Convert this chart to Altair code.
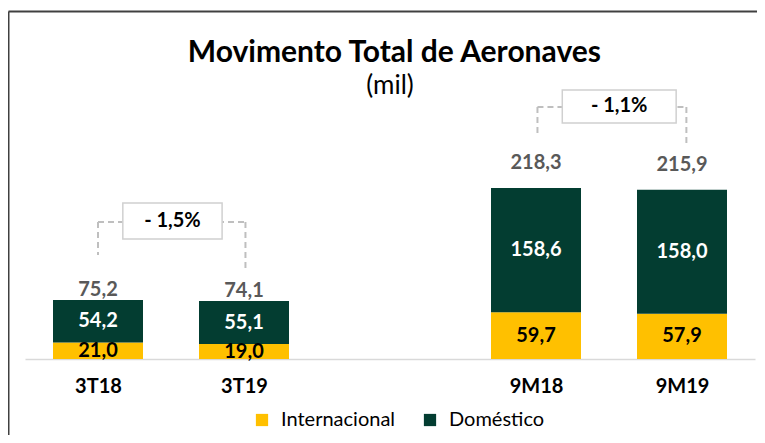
import altair as alt
import pandas as pd

# ---- data ----
categories = ["3T18", "3T19", "9M18", "9M19"]
slots = [0, 1, 3, 4]                      # category slot (slot 2 left empty)
internacional = [21.0, 19.0, 59.7, 57.9]
domestico = [54.2, 55.1, 158.6, 158.0]
totals = [75.2, 74.1, 218.3, 215.9]
groups = ["3T", "3T", "9M", "9M"]
variations = ["- 1,5%", "- 1,1%"]
series = ["Internacional", "Doméstico"]
title_text = "Movimento Total de Aeronaves"
subtitle_text = "(mil)"

YELLOW = "#FFC000"
GREEN = "#033D31"
FONT = "Lato"


def fmt(v):
    return f"{v:.1f}".replace(".", ",")


rows = []
for c, s, i, d, g in zip(categories, slots, internacional, domestico, groups):
    rows.append({"cat": c, "pos": s, "serie": series[0], "start": 0.0, "end": i,
                 "mid": i / 2, "label": fmt(i), "grp": g})
    rows.append({"cat": c, "pos": s, "serie": series[1], "start": i, "end": i + d,
                 "mid": i + d / 2, "label": fmt(d), "grp": g})
bars_df = pd.DataFrame(rows)

tot_df = pd.DataFrame({"cat": categories, "pos": slots, "total": totals,
                       "label": [fmt(t) for t in totals], "grp": groups})

# bracket annotations (data units)
br_df = pd.DataFrame({
    "x_left": [0.0, 3.01], "x_right": [1.01, 4.03],
    "top": [175.0, 321.6], "left_end": [132.7, 288.5], "right_end": [113.6, 275.7],
    "box_x1": [0.17, 3.18], "box_x2": [0.85, 3.96],
    "box_y1": [153.2, 301.2], "box_y2": [199.1, 343.4],
    "text": variations,
})
br_df["box_xc"] = (br_df["box_x1"] + br_df["box_x2"]) / 2
br_df["box_yc"] = (br_df["box_y1"] + br_df["box_y2"]) / 2

# heading / frame annotations (data units)
head_df = pd.DataFrame({"t": [title_text, subtitle_text], "x": [2.03, 2.0],
                        "y": [390.6, 348.4], "kind": ["title", "sub"]})
frame_df = pd.DataFrame({"x": [-0.613], "x2": [4.6], "y": [443.5], "y2": [-105.0]})

label_expr = " : ".join(
    f"datum.value == {s} ? '{c}'" for s, c in zip(slots, categories)
) + " : ''"

xscale = alt.Scale(domain=[-0.5, 4.5], nice=False, zero=False, padding=0)
yscale = alt.Scale(domain=[0, 448], nice=False, zero=True, padding=0)

xaxis = alt.Axis(values=slots, labelExpr=label_expr, ticks=False, grid=False,
                 title=None, domainColor="#D9D9D9", domainWidth=1.5,
                 labelFontSize=20, labelFontWeight="bold", labelFont=FONT,
                 labelColor="#000000", labelPadding=17)


def X(f):
    return alt.X(f, type="quantitative", scale=xscale, axis=xaxis)


def Y(f):
    return alt.Y(f, type="quantitative", scale=yscale, axis=None)


base = alt.Chart(bars_df)

bars = base.mark_bar(size=90).encode(
    x=X("pos"),
    y=Y("start"),
    y2="end:Q",
    color=alt.Color("serie:N",
                    scale=alt.Scale(domain=series, range=[YELLOW, GREEN]),
                    legend=alt.Legend(title=None, orient="none", direction="horizontal",
                                      legendX=227, legendY=402,
                                      symbolType="square", symbolSize=150,
                                      symbolStrokeWidth=0, labelFontSize=20,
                                      labelFont=FONT, labelColor="#000000",
                                      labelOffset=9, columnPadding=24)),
)

lab_int = base.transform_filter(alt.datum.serie == series[0]).mark_text(
    fontSize=20, fontWeight="bold", font=FONT, color="#000000", baseline="middle"
).encode(x=X("pos"), y=Y("mid"), text="label:N")

lab_dom = base.transform_filter(alt.datum.serie == series[1]).mark_text(
    fontSize=20, fontWeight="bold", font=FONT, color="#FFFFFF", baseline="middle"
).encode(x=X("pos"), y=Y("mid"), text="label:N")

tot_base = alt.Chart(tot_df)
tot_3t = tot_base.transform_filter(alt.datum.grp == "3T").mark_text(
    fontSize=20, fontWeight="bold", font=FONT, color="#595959", baseline="middle", dy=-10
).encode(x=X("pos"), y=Y("total"), text="label:N")
tot_9m = tot_base.transform_filter(alt.datum.grp == "9M").mark_text(
    fontSize=20, fontWeight="bold", font=FONT, color="#595959", baseline="middle", dy=-25
).encode(x=X("pos"), y=Y("total"), text="label:N")

br = alt.Chart(br_df)
br_h = br.mark_rule(color="#BFBFBF", strokeWidth=2, strokeDash=[6, 4]).encode(
    x=X("x_left"), x2="x_right:Q", y=Y("top"))
br_l = br.mark_rule(color="#BFBFBF", strokeWidth=2, strokeDash=[6, 4]).encode(
    x=X("x_left"), y=Y("top"), y2="left_end:Q")
br_r = br.mark_rule(color="#BFBFBF", strokeWidth=2, strokeDash=[6, 4]).encode(
    x=X("x_right"), y=Y("top"), y2="right_end:Q")
box = br.mark_rect(fill="#FFFFFF", stroke="#D0D0D0", strokeWidth=1.5).encode(
    x=X("box_x1"), x2="box_x2:Q", y=Y("box_y1"), y2="box_y2:Q")
box_txt = br.mark_text(fontSize=20, fontWeight="bold", font=FONT, color="#000000",
                       baseline="middle").encode(x=X("box_xc"), y=Y("box_yc"), text="text:N")

head = alt.Chart(head_df)
title = head.transform_filter(alt.datum.kind == "title").mark_text(
    fontSize=30, fontWeight="bold", font=FONT, color="#000000", baseline="middle"
).encode(text="t:N", x=X("x"), y=Y("y"))
subtitle = head.transform_filter(alt.datum.kind == "sub").mark_text(
    fontSize=26, font=FONT, color="#000000", baseline="middle"
).encode(text="t:N", x=X("x"), y=Y("y"))

frame = alt.Chart(frame_df)
border_top = frame.mark_rule(color="#404040", strokeWidth=2).encode(
    x=X("x"), x2="x2:Q", y=Y("y"))
border_left = frame.mark_rule(color="#404040", strokeWidth=2).encode(
    x=X("x"), y=Y("y"), y2="y2:Q")

chart = alt.layer(
    border_top, border_left, br_h, br_l, br_r, box, box_txt,
    bars, lab_int, lab_dom, tot_3t, tot_9m, title, subtitle
).properties(
    width=730, height=351,
    autosize=alt.AutoSizeParams(type="none"),
    padding={"left": 17, "top": 0, "right": 2, "bottom": 76},
).configure_view(stroke=None)

chart.save("out.html", embed_options={"renderer": "svg", "actions": False})
